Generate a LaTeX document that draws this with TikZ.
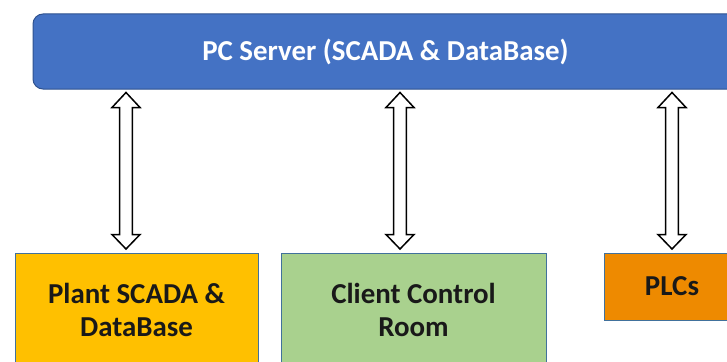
\documentclass[tikz,border=0pt]{standalone}
\usepackage{fontspec}
\setmainfont{Carlito}
\usetikzlibrary{calc}

\definecolor{serverBlue}{RGB}{68,114,196}
\definecolor{serverEdge}{RGB}{47,82,143}
\definecolor{boxEdge}{RGB}{65,113,156}
\definecolor{plantYellow}{RGB}{255,192,0}
\definecolor{clientGreen}{RGB}{169,209,142}
\definecolor{plcOrange}{RGB}{238,138,0}

\begin{document}
\begin{tikzpicture}[
        x=1pt, y=-1pt,
        server/.style={
            rectangle,
            draw=serverEdge,
            line width=1pt,
            fill=serverBlue,
            rounded corners=10pt,
            minimum width=705pt,
            minimum height=75pt,
            text=white,
            font=\fontsize{28.9}{34}\selectfont\bfseries
        },
        unit/.style={
            rectangle,
            draw=boxEdge,
            line width=1pt,
            align=center,
            text=black!90,
            font=\fontsize{28.9}{33.5}\selectfont\bfseries
        },
        plant/.style={
            unit,
            fill=plantYellow,
            minimum width=243pt,
            minimum height=114pt
        },
        client/.style={
            unit,
            fill=clientGreen,
            minimum width=265pt,
            minimum height=114pt
        },
        plcbox/.style={
            unit,
            fill=plcOrange,
            minimum width=136pt,
            minimum height=67pt
        },
        dblarrow/.style={
            draw=black,
            fill=white,
            line width=1.5pt,
            line join=miter,
            to path={
                let \p1=(\tikztostart), \p2=(\tikztotarget) in
                (\x1,\y1-3pt) -- (\x1+14pt,\y1-18pt) -- (\x1+6.3pt,\y1-18pt)
                -- (\x2+6.3pt,\y2+18pt) -- (\x2+14pt,\y2+18pt) -- (\x2,\y2+3.5pt)
                -- (\x2-14pt,\y2+18pt) -- (\x2-6.3pt,\y2+18pt)
                -- (\x1-6.3pt,\y1-18pt) -- (\x1-14pt,\y1-18pt) -- cycle
            }
        }
    ]

        \useasboundingbox (0,0) rectangle (727,361);
        \clip (0,0) rectangle (727,361);

        \node[server] (srv) at (385.5,51.5) {PC Server (SCADA \& DataBase)};

        \node[plant] (plant) at (136.5,310) {Plant SCADA \&\\DataBase};
        \node[client] (client) at (413.5,310) {Client Control\\Room};
        \node[plcbox] (plc) at (672,286.5) {PLCs};

        \draw[dblarrow] ([xshift=-10.5pt]plant.north |- srv.south) to ([xshift=-10.5pt]plant.north);
        \draw[dblarrow] ([xshift=-13.5pt]client.north |- srv.south) to ([xshift=-13.5pt]client.north);
        \draw[dblarrow] (plc.north |- srv.south) to (plc.north);

    \end{tikzpicture}
\end{document}
